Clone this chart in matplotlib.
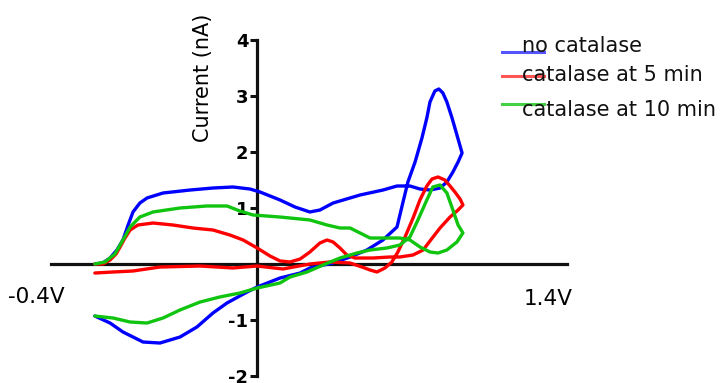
import matplotlib
matplotlib.use("Agg")
import matplotlib.pyplot as plt
from matplotlib.lines import Line2D

# ---- data (potential in V, current in nA) ----
blue_v = [-0.247, -0.219, -0.194, -0.170, -0.149, -0.131, -0.114, -0.090, -0.065, -0.009,
          0.085, 0.165, 0.235, 0.294, 0.329, 0.399, 0.451, 0.503, 0.538, 0.584,
          0.678, 0.758, 0.807, 0.852, 0.887, 0.922, 0.957, 0.981, 1.002, 1.020, 1.034,
          1.016, 0.999, 0.981, 0.967, 0.953, 0.939, 0.922, 0.911, 0.894, 0.870, 0.845,
          0.828, 0.807, 0.758, 0.702, 0.643, 0.584, 0.503, 0.469, 0.399, 0.319, 0.284,
          0.214, 0.165, 0.109, 0.050, -0.020, -0.079, -0.149, -0.194, -0.247]
blue_i = [0.0, 0.02, 0.107, 0.25, 0.429, 0.696, 0.929, 1.089, 1.179, 1.268,
          1.321, 1.357, 1.375, 1.339, 1.286, 1.143, 1.018, 0.929, 0.964, 1.089,
          1.232, 1.321, 1.393, 1.393, 1.339, 1.321, 1.357, 1.464, 1.643, 1.821, 1.982,
          2.304, 2.607, 2.893, 3.054, 3.125, 3.089, 2.893, 2.607, 2.25, 1.821, 1.464,
          1.107, 0.661, 0.429, 0.25, 0.125, 0.018, -0.071, -0.161, -0.25, -0.411, -0.5,
          -0.696, -0.875, -1.125, -1.304, -1.411, -1.393, -1.214, -1.054, -0.929]

red_v = [-0.247, -0.219, -0.194, -0.173, -0.159, -0.142, -0.124, -0.097, -0.044, 0.026,
         0.095, 0.165, 0.224, 0.270, 0.319, 0.364, 0.399, 0.434, 0.469, 0.503,
         0.538, 0.563, 0.584, 0.608, 0.632, 0.660, 0.723, 0.782, 0.817, 0.863,
         0.898, 0.922, 0.957, 0.992, 1.020, 1.037, 1.027, 1.009, 0.992, 0.974,
         0.950, 0.929, 0.911, 0.887, 0.863, 0.835, 0.810, 0.789, 0.765, 0.737,
         0.713, 0.685, 0.643, 0.573, 0.503, 0.409, 0.319, 0.235, 0.120, -0.020,
         -0.114, -0.184, -0.247]
red_i = [0.0, 0.0, 0.071, 0.179, 0.304, 0.464, 0.607, 0.696, 0.732, 0.696,
         0.643, 0.607, 0.518, 0.429, 0.286, 0.143, 0.054, 0.036, 0.089, 0.214,
         0.375, 0.429, 0.393, 0.286, 0.161, 0.107, 0.107, 0.125, 0.125, 0.161,
         0.25, 0.411, 0.643, 0.839, 0.964, 1.054, 1.161, 1.286, 1.393, 1.5,
         1.554, 1.518, 1.393, 1.143, 0.821, 0.482, 0.214, 0.036, -0.071, -0.143,
         -0.107, -0.054, 0.018, 0.036, 0.0, -0.089, -0.036, -0.071, -0.036, -0.054,
         -0.125, -0.143, -0.161]

green_v = [-0.247, -0.212, -0.177, -0.149, -0.124, -0.090, -0.044, 0.050, 0.144, 0.214,
           0.259, 0.305, 0.399, 0.503, 0.563, 0.608, 0.643, 0.678, 0.713, 0.758,
           0.817, 0.852, 0.887, 0.922, 0.950, 0.981, 1.016, 1.037, 1.020, 1.002,
           0.981, 0.957, 0.932, 0.911, 0.880, 0.852, 0.817, 0.772, 0.713, 0.667,
           0.608, 0.549, 0.493, 0.434, 0.399, 0.319, 0.259, 0.189, 0.120, 0.050,
           -0.009, -0.065, -0.124, -0.184, -0.247]
green_i = [0.0, 0.036, 0.179, 0.429, 0.661, 0.839, 0.929, 1.0, 1.036, 1.036,
           0.946, 0.875, 0.839, 0.786, 0.696, 0.643, 0.643, 0.554, 0.464, 0.464,
           0.464, 0.429, 0.304, 0.214, 0.196, 0.25, 0.393, 0.554, 0.696, 0.964,
           1.268, 1.411, 1.375, 1.143, 0.786, 0.482, 0.339, 0.286, 0.25, 0.196,
           0.107, -0.018, -0.143, -0.232, -0.339, -0.429, -0.518, -0.589, -0.679, -0.821,
           -0.964, -1.054, -1.036, -0.964, -0.929]

series_labels = ["no catalase", "catalase at 5 min", "catalase at 10 min"]
series_colors = ["#0000ff", "#ff0000", "#10c410"]
legend_colors = ["#5555ff", "#ff5555", "#44d044"]
y_ticks = [-2, -1, 0, 1, 2, 3, 4]
y_ticklabels = ["-2", "-1", "", "1", "2", "3", "4"]
x_end_labels = ["-0.4V", "1.4V"]
y_label = "Current (nA)"

W, H = 724, 383
fig = plt.figure(figsize=(W / 100, H / 100), dpi=100)
ax = fig.add_axes([51 / W, (H - 376) / H, 516 / W, 336 / H])

for v, i, lab, col in zip([blue_v, red_v, green_v], [blue_i, red_i, green_i],
                          series_labels, series_colors):
    ax.plot(v, i, color=col, lw=2.4, label=lab, solid_capstyle="round",
            solid_joinstyle="round")

ax.set_xlim(-0.4, 1.4)
ax.set_ylim(-2, 4)
ax.spines["top"].set_visible(False)
ax.spines["right"].set_visible(False)
ax.spines["left"].set_position(("data", 0.32))
ax.spines["bottom"].set_position(("data", 0))
for s in ("left", "bottom"):
    ax.spines[s].set_linewidth(2.3)
    ax.spines[s].set_color("#111111")
    ax.spines[s].set_zorder(1)
ax.set_xticks([])
ax.set_yticks(y_ticks)
ax.set_yticklabels(y_ticklabels, fontsize=13, fontweight="bold",
                   family="DejaVu Sans")
ax.tick_params(axis="y", length=5, width=2.2, pad=1.5, color="#111111")
ax.patch.set_alpha(0)

fig.text(203 / W, 1 - 78 / H, y_label, rotation=90, ha="center", va="center",
         fontsize=15, family="DejaVu Sans")
fig.text(36.5 / W, 1 - 303 / H, x_end_labels[0], ha="center", va="baseline",
         fontsize=15.5, family="DejaVu Sans")
fig.text(548 / W, 1 - 305 / H, x_end_labels[1], ha="center", va="baseline",
         fontsize=15.5, family="DejaVu Sans")

# legend (lines sit near the text baseline, text overlaps the line end)
leg_line_y = [52.3, 76.0, 103.5]
leg_text_base = [51.7, 81.0, 115.5]
for lab, col, ly, ty in zip(series_labels, legend_colors, leg_line_y, leg_text_base):
    fig.add_artist(Line2D([502 / W, 544 / W], [1 - ly / H, 1 - ly / H],
                          transform=fig.transFigure, color=col, lw=2.2))
    fig.text(522 / W, 1 - ty / H, lab, ha="left", va="baseline",
             fontsize=15, family="DejaVu Sans", color="#111111")

fig.savefig("out.png", dpi=100)
